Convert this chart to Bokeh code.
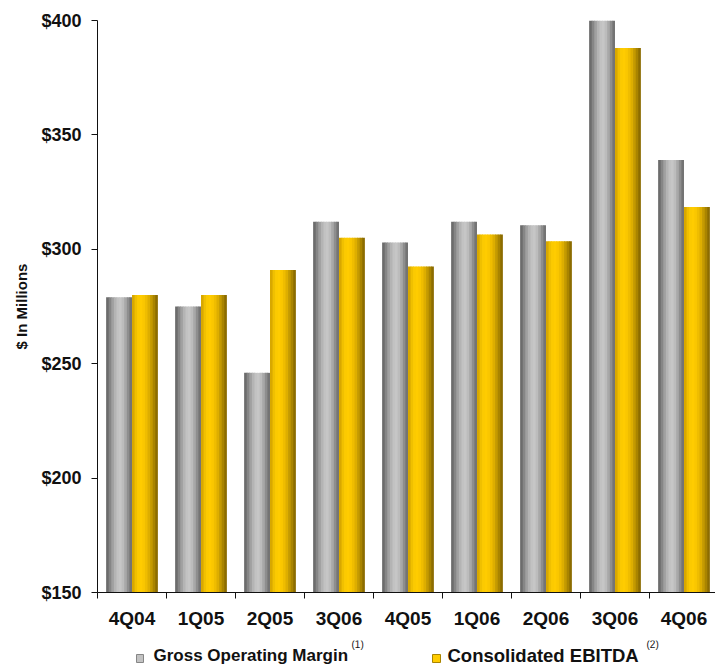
from bokeh.plotting import figure
from bokeh.layouts import column
from bokeh.models import ColumnDataSource, Range1d, FixedTicker, PrintfTickFormatter
from bokeh.core.properties import value
from bokeh.transform import dodge
from bokeh.embed import file_html
from bokeh.resources import INLINE

# Quarterly results, $ in millions
quarters = ["4Q04", "1Q05", "2Q05", "3Q06", "4Q05", "1Q06", "2Q06", "3Q06", "4Q06"]
gross_operating_margin = [279, 275, 246, 312, 303, 312, 310.5, 400, 339]
consolidated_ebitda = [280, 280, 291, 305, 292.5, 306.5, 303.5, 388, 318.5]
y_ticks = [150, 200, 250, 300, 350, 400]
series_names = ["Gross Operating Margin", "Consolidated EBITDA"]
footnotes = ["(1)", "(2)"]

FONT = "Liberation Sans"
INK = "#111111"
BAR_W = 0.375          # width of one bar, in category units
N_STRIPS = 10          # vertical strips used to shade each bar like a cylinder

# left-to-right shading of the two bar styles
GRAY_SHADES = ["#6c6c6c", "#868686", "#a0a0a0", "#b4b4b4", "#c2c2c2",
               "#c6c6c6", "#bcbcbc", "#a8a8a8", "#8e8e8e", "#747474"]
GOLD_SHADES = ["#d8a800", "#f0c000", "#fcca00", "#ffcc00", "#fac700",
               "#efbd00", "#ddae00", "#c49a00", "#a98400", "#8c6c00"]

n = len(quarters)
source = ColumnDataSource(dict(
    center=[i + 0.5 for i in range(n)],
    gom=gross_operating_margin,
    ebitda=consolidated_ebitda,
))

p = figure(width=715, height=640, output_backend="svg", toolbar_location=None,
           title=None,
           x_range=Range1d(0, 618 / 69), y_range=Range1d(150, 400),
           min_border_left=97, min_border_right=0,
           min_border_top=20, min_border_bottom=48)
p.outline_line_color = None
p.grid.visible = False


def shaded_bars(field, start, shades):
    """Draw one series as a row of narrow strips so each bar looks rounded."""
    w = BAR_W / N_STRIPS
    for k, color in enumerate(shades):
        if k < N_STRIPS - 1:
            sw = w * 1.3                      # slight overlap hides seams
            off = start + k * w + sw / 2
        else:
            sw = w
            off = start + k * w + w / 2
        p.vbar(x=dodge("center", off), top=field, bottom=0, width=sw,
               source=source, fill_color=color, line_color=None)


shaded_bars("gom", -BAR_W, GRAY_SHADES)
shaded_bars("ebitda", 0.0, GOLD_SHADES)

# y axis
ya = p.yaxis[0]
ya.ticker = FixedTicker(ticks=y_ticks)
ya.formatter = PrintfTickFormatter(format="$%d")
ya.axis_label = "$ In Millions"
ya.axis_label_text_font = FONT
ya.axis_label_text_font_style = "bold"
ya.axis_label_text_font_size = "15px"
ya.axis_label_text_color = INK
ya.axis_label_standoff = 8
ya.major_label_text_font = FONT
ya.major_label_text_font_style = "bold"
ya.major_label_text_font_size = "18px"
ya.major_label_text_color = INK
ya.major_label_standoff = 10
ya.major_tick_in = 0
ya.major_tick_out = 6
ya.minor_tick_line_color = None
ya.axis_line_color = INK
ya.major_tick_line_color = INK

# x axis: labels centred on each quarter, tick marks on the boundaries
xa = p.xaxis[0]
centers = [i + 0.5 for i in range(n)]
xa.ticker = FixedTicker(ticks=centers, minor_ticks=list(range(n + 1)))
xa.major_label_overrides = {c: q for c, q in zip(centers, quarters)}
xa.major_label_text_font = FONT
xa.major_label_text_font_style = "bold"
xa.major_label_text_font_size = "19px"
xa.major_label_text_color = INK
xa.major_label_standoff = 9
xa.major_tick_line_color = None
xa.minor_tick_in = 0
xa.minor_tick_out = 6
xa.minor_tick_line_color = INK
xa.axis_line_color = INK

# key strip under the chart; its frame lines up with the chart frame,
# so the x range is expressed in page pixels from 97 to 715 (y downward)
key = figure(width=715, height=25, output_backend="svg", toolbar_location=None,
             title=None, x_range=Range1d(97, 715), y_range=Range1d(25, 0),
             x_axis_location=None, y_axis_location=None,
             min_border=0, min_border_left=97, min_border_right=0,
             min_border_top=0, min_border_bottom=0)
key.outline_line_color = None
key.grid.visible = False

key.rect(x=[139.5, 436], y=[18, 18], width=[7, 8], height=[8, 8],
         fill_color=[GRAY_SHADES[4], GOLD_SHADES[3]],
         line_color=[GRAY_SHADES[1], GOLD_SHADES[8]], line_width=1)
key.text(x=[153], y=[15], text=[series_names[0]], text_font=value(FONT),
         text_font_style="bold", text_font_size="17px", text_color=INK,
         text_baseline="alphabetic")
key.text(x=[447], y=[15], text=[series_names[1]], text_font=value(FONT),
         text_font_style="bold", text_font_size="18.5px", text_color=INK,
         text_baseline="alphabetic")
key.text(x=[351, 646], y=[-2, -2], text=footnotes, text_font=value(FONT),
         text_font_size="10px", text_color=INK, text_baseline="top")

open("out.html", "w").write(file_html(column(p, key, spacing=0), INLINE))
